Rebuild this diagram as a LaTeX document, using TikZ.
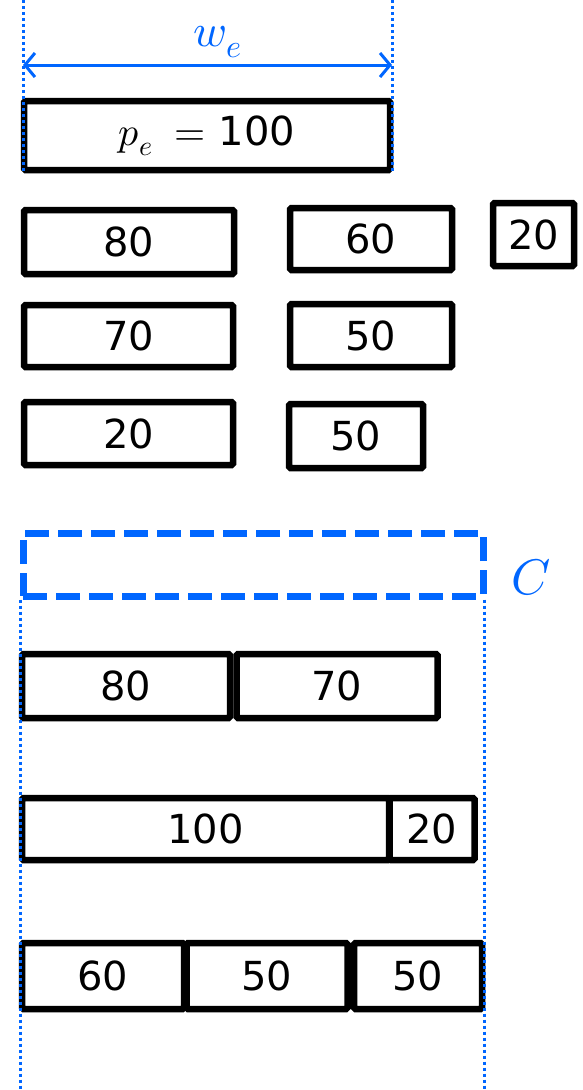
\documentclass[tikz,border=0pt]{standalone}
\usepackage{amsmath}
\usepackage{fontspec}
\usepackage{unicode-math}
\setmainfont{DejaVu Sans}
\setmathfont{Latin Modern Math}
\usetikzlibrary{arrows.meta,positioning,calc}
\definecolor{DimBlue}{RGB}{0,102,255}

\begin{document}
\begin{tikzpicture}[x=1pt, y=-1pt,
  every node/.style={font=\fontsize{40}{48}\selectfont},
  blk/.style={draw, line width=6.5pt, rounded corners=1.5pt, inner sep=0pt, fill=white},
  guide/.style={DimBlue, line width=3pt, dash pattern=on 3pt off 3pt},
  capbox/.style={draw=DimBlue, line width=7pt, dash pattern=on 24pt off 9pt, inner sep=0pt}]

\useasboundingbox (0,0) rectangle (583,1090);

% the item e and its width
\node[blk, minimum width=366pt, minimum height=69pt] (pe) at (207,135.5) {$p_e\;=$\ 100};

\coordinate (wl) at (23,0);
\coordinate (wr) at (392,0);
\coordinate (wa) at (23,65);
\coordinate (wb) at (392,65);
\draw[DimBlue, line width=3pt, {Straight Barb[length=10pt,width=24pt]}-{Straight Barb[length=10pt,width=24pt]}]
  (wa) -- node[above=2pt, xshift=10pt, text=DimBlue, font=\fontsize{46}{52}\selectfont] {$w_e$} (wb);
\draw[guide] (wl) -- (wl |- pe.south);
\draw[guide] (wr) -- (wr |- pe.south);

% the other items
\node[blk, minimum width=210pt, minimum height=64pt] (r80) at (129,242) {80};
\node[blk, minimum width=162pt, minimum height=62pt] (r60) at (371,239) {60};
\node[blk, minimum width=81pt, minimum height=63pt] (r20a) at (533.5,234.5) {20};
\node[blk, minimum width=209pt, minimum height=62pt] (r70) at (128.5,336) {70};
\node[blk, minimum width=162pt, minimum height=63pt] (r50a) at (371,335.5) {50};
\node[blk, minimum width=209pt, minimum height=63pt] (r20b) at (128.5,433.5) {20};
\node[blk, minimum width=134pt, minimum height=64pt] (r50b) at (356,436) {50};

% capacity C
\node[capbox, minimum width=460pt, minimum height=63pt] (cap) at (253,564.5) {};
\node[text=DimBlue, font=\fontsize{50}{56}\selectfont] (clabel) at (531,577) {$C$};

% packed bins
\node[blk, minimum width=208pt, minimum height=64pt] (a80) at (126,686) {80};
\node[blk, minimum width=201pt, minimum height=64pt, right=0pt of a80] (a70) {70};

\node[blk, minimum width=367pt, minimum height=62pt] (b100) at (205.5,829) {100};
\node[blk, minimum width=85pt, minimum height=62pt, right=-6pt of b100] (b20) {20};

\node[blk, minimum width=162pt, minimum height=66pt] (c60) at (103,976) {60};
\node[blk, minimum width=161pt, minimum height=66pt, right=-4pt of c60] (c50a) {50};
\node[blk, minimum width=128pt, minimum height=66pt, right=0pt of c50a] (c50b) {50};

\coordinate (gl) at (20,1090);
\coordinate (gr) at (484,1090);
\draw[guide] (cap.south -| gl) -- (gl);
\draw[guide] (cap.south -| gr) -- (gr);
\end{tikzpicture}
\end{document}
